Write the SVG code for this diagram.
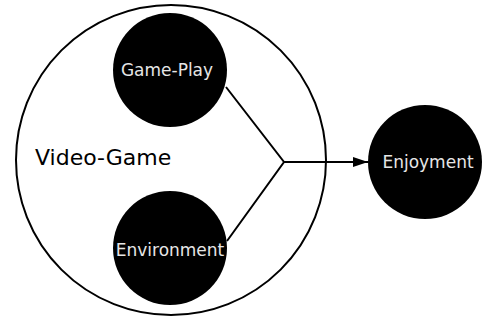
<svg xmlns="http://www.w3.org/2000/svg" width="483" height="320" viewBox="0 0 483 320">
<defs>
<style>
.lbl{font-family:"DejaVu Sans",Verdana,sans-serif;font-size:17px;fill:#e6e6e6;text-anchor:middle}
.node{fill:#000}
.edge{stroke:#000;stroke-width:2;fill:none}
</style>
<marker id="arr" markerWidth="16" markerHeight="12" refX="15" refY="6" orient="auto" markerUnits="userSpaceOnUse">
<path d="M0,1 L15,6 L0,11 Z" fill="#000"/>
</marker>
</defs>
<rect width="483" height="320" fill="#fff"/>
<g id="video-game">
<circle cx="171" cy="160" r="155" fill="none" stroke="#000" stroke-width="2"/>
<text x="35" y="165" font-family="DejaVu Sans, Verdana, sans-serif" font-size="22" fill="#000">Video-Game</text>
</g>
<g id="game-play">
<circle class="node" cx="170" cy="70" r="57"/>
<text class="lbl" x="167" y="76">Game-Play</text>
</g>
<g id="environment">
<circle class="node" cx="170" cy="248" r="57"/>
<text class="lbl" x="170" y="256">Environment</text>
</g>
<g id="enjoyment">
<circle class="node" cx="425" cy="162" r="57"/>
<text class="lbl" x="428" y="168">Enjoyment</text>
</g>
<g id="connectors">
<polyline class="edge" points="226,87 284,162 227,241"/>
<line class="edge" x1="284" y1="162" x2="368" y2="162" marker-end="url(#arr)"/>
</g>
</svg>
